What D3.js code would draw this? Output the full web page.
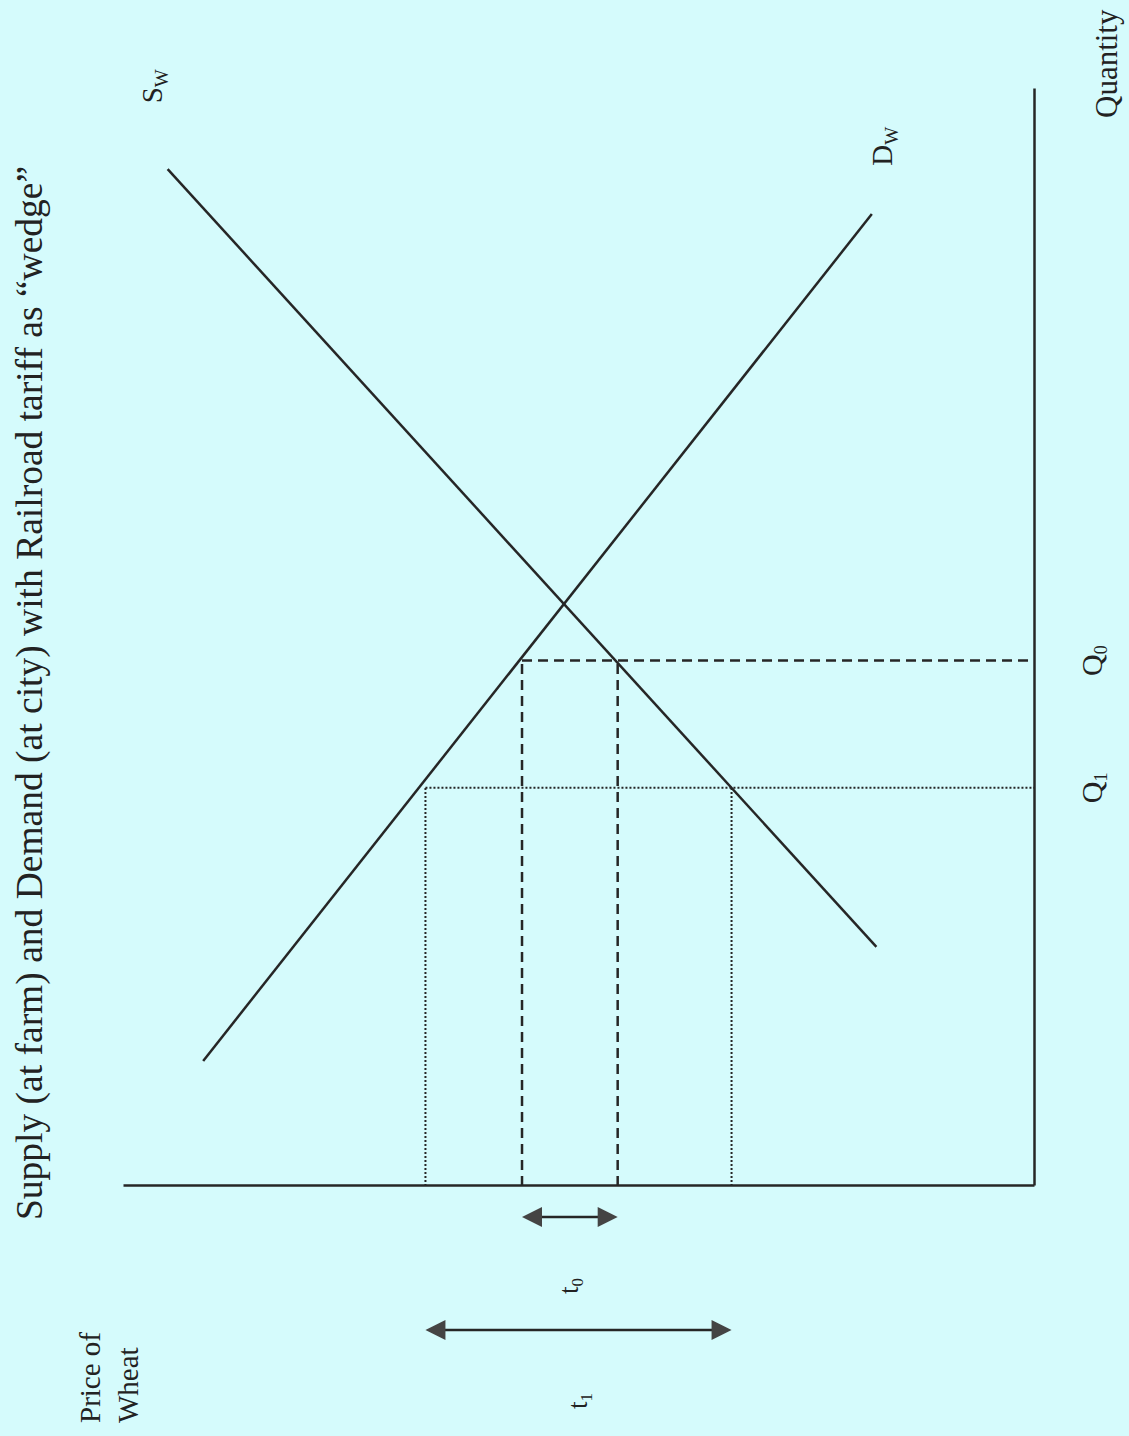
<!DOCTYPE html>
<html>
<head>
<meta charset="utf-8">
<script src="https://cdn.jsdelivr.net/npm/d3@7"></script>
<style>
  html, body { margin: 0; padding: 0; background: #d5fbfc; }
  svg { display: block; }
  text { font-family: "Liberation Serif", "Times New Roman", serif; fill: #222; }
</style>
</head>
<body>
<div class="canvas"></div>
<script>
// chart values (quantity and price units, 0-100)
const supplyPoints = [{q: 21.8, p: 17.3}, {q: 92.7, p: 95.1}];
const demandPoints = [{q: 11.4, p: 91.2}, {q: 88.6, p: 17.8}];
const quantityLabels = ['0', '1'];          // Q0, Q1 subscripts
const quantityValues = [47.9, 36.3];
const demandPrices = [56.2, 66.8];          // price at city
const supplyPrices = [45.7, 33.2];          // price at farm
const tariffLabels = ['0', '1'];            // t0, t1 subscripts

// page is drawn sideways, like the scanned figure
const pageWidth = 1129;
const pageHeight = 1436;
const lineColor = '#262626';
const arrowColor = '#444';

const svg = d3.select('.canvas')
    .append('svg')
    .attr('width', pageWidth)
    .attr('height', pageHeight);

// rotated frame: width = pageHeight, height = pageWidth
const graph = svg.append('g')
    .attr('transform', `translate(0,${pageHeight}) rotate(-90)`);

const x = d3.scaleLinear().domain([0, 100]).range([250, 1347]);
const y = d3.scaleLinear().domain([0, 100]).range([1034, 123]);

// axes without ticks
const xAxis = d3.axisBottom(x).ticks(0).tickSizeOuter(0);
const yAxis = d3.axisLeft(y).ticks(0).tickSizeOuter(0);

graph.append('g')
    .attr('transform', `translate(0,${y(0)})`)
    .call(xAxis)
    .select('.domain')
    .attr('stroke', lineColor)
    .attr('stroke-width', 2.5);

graph.append('g')
    .attr('transform', `translate(${x(0)},0)`)
    .call(yAxis)
    .select('.domain')
    .attr('stroke', lineColor)
    .attr('stroke-width', 2.5);

// supply and demand
const line = d3.line().x(d => x(d.q)).y(d => y(d.p));

graph.append('path')
    .datum(supplyPoints)
    .attr('d', line)
    .attr('fill', 'none')
    .attr('stroke', lineColor)
    .attr('stroke-width', 2.5);

graph.append('path')
    .datum(demandPoints)
    .attr('d', line)
    .attr('fill', 'none')
    .attr('stroke', lineColor)
    .attr('stroke-width', 2.5);

// guide boxes: Q0 dashed, Q1 dotted
const dashes = ['10,6', '2,2'];
const widths = [2.5, 2];

quantityValues.forEach((q, i) => {
    const g = graph.append('g')
        .attr('fill', 'none')
        .attr('stroke', lineColor)
        .attr('stroke-width', widths[i])
        .attr('stroke-dasharray', dashes[i]);

    // vertical at quantity
    g.append('line')
        .attr('x1', x(q)).attr('x2', x(q))
        .attr('y1', y(demandPrices[i])).attr('y2', y(0));

    // horizontals at the two prices
    [demandPrices[i], supplyPrices[i]].forEach(p => {
        g.append('line')
            .attr('x1', x(0)).attr('x2', x(q))
            .attr('y1', y(p)).attr('y2', y(p));
    });
});

// tariff arrows to the left of the price axis
const arrowOffsets = [31, 144];
const labelOffsets = [100, 215];
const head = 20;

tariffLabels.forEach((t, i) => {
    const ax = x(0) - arrowOffsets[i];
    const top = y(demandPrices[i]);
    const bottom = y(supplyPrices[i]);

    graph.append('line')
        .attr('x1', ax).attr('x2', ax)
        .attr('y1', top + head - 2).attr('y2', bottom - head + 2)
        .attr('stroke', lineColor)
        .attr('stroke-width', 2.5);

    graph.append('path')
        .attr('d', `M${ax},${top} L${ax - 10},${top + head} L${ax + 10},${top + head} Z`)
        .attr('fill', arrowColor);

    graph.append('path')
        .attr('d', `M${ax},${bottom} L${ax - 10},${bottom - head} L${ax + 10},${bottom - head} Z`)
        .attr('fill', arrowColor);

    const label = graph.append('text')
        .attr('x', x(0) - labelOffsets[i])
        .attr('y', (top + bottom) / 2 + 8)
        .attr('font-size', 27)
        .attr('text-anchor', 'middle');
    label.append('tspan').text('t');
    label.append('tspan').attr('font-size', 17).attr('dy', 5).text(t);
});

// quantity labels under the axis
quantityValues.forEach((q, i) => {
    const label = graph.append('text')
        .attr('x', x(q))
        .attr('y', y(0) + 68)
        .attr('font-size', 30)
        .attr('text-anchor', 'middle');
    label.append('tspan').text('Q');
    label.append('tspan').attr('font-size', 18).attr('dy', 5).text(quantityLabels[i]);
});

// curve labels
const sLabel = graph.append('text')
    .attr('x', x(98.7)).attr('y', y(95.7))
    .attr('font-size', 29);
sLabel.append('tspan').text('S');
sLabel.append('tspan').attr('font-size', 19).attr('dy', 6).text('W');

const dLabel = graph.append('text')
    .attr('x', x(93.0)).attr('y', y(15.6))
    .attr('font-size', 29);
dLabel.append('tspan').text('D');
dLabel.append('tspan').attr('font-size', 19).attr('dy', 6).text('W');

// axis titles
graph.append('text')
    .attr('x', 1318).attr('y', 1117)
    .attr('font-size', 31)
    .text('Quantity');

const priceTitle = graph.append('text')
    .attr('font-size', 29);
priceTitle.append('tspan').attr('x', 13).attr('y', 100).text('Price of');
priceTitle.append('tspan').attr('x', 13).attr('y', 138).text('Wheat');

// chart title
graph.append('text')
    .attr('x', 743).attr('y', 42)
    .attr('font-size', 37.5)
    .attr('text-anchor', 'middle')
    .text('Supply (at farm) and Demand (at city) with Railroad tariff as \u201Cwedge\u201D');
</script>
</body>
</html>
